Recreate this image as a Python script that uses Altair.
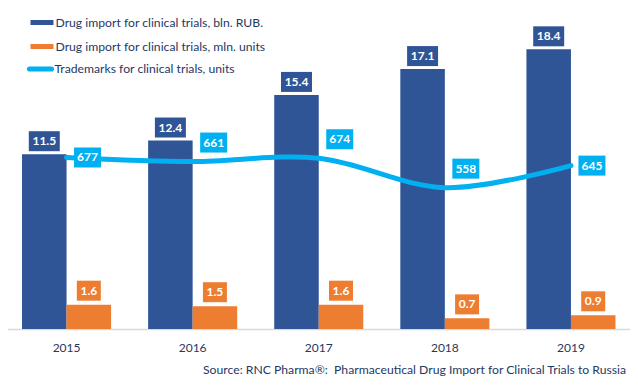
import altair as alt
import pandas as pd

years = ["2015", "2016", "2017", "2018", "2019"]
import_rub = [11.5, 12.4, 15.4, 17.1, 18.4]
import_units = [1.6, 1.5, 1.6, 0.7, 0.9]
trademarks = [677, 661, 674, 558, 645]

S_RUB = "Drug import for clinical trials, bln. RUB."
S_UNITS = "Drug import for clinical trials, mln. units"
S_TM = "Trademarks for clinical trials, units"
SOURCE = "Source: RNC Pharma®:\u00a0 Pharmaceutical Drug Import for Clinical Trials to Russia"

BLUE = "#2F5597"
ORANGE = "#ED7D31"
CYAN = "#00B0F0"
NAVY = "#1F3864"
FONT = "Lato"

bars_df = pd.DataFrame({
    "year": years * 2,
    "series": [S_RUB] * len(years) + [S_UNITS] * len(years),
    "value": import_rub + import_units,
})
tm_df = pd.DataFrame({"year": years, "series": [S_TM] * len(years), "value": trademarks})

X = alt.X("year:N", scale=alt.Scale(domain=years, paddingInner=0, paddingOuter=0),
          axis=alt.Axis(title=None, labelAngle=0, ticks=False, domainColor="#D9D9D9",
                        domainWidth=1.5, labelColor=NAVY, labelFont=FONT, labelFontSize=12,
                        labelPadding=13))
XO = alt.XOffset("series:N", scale=alt.Scale(domain=[S_RUB, S_UNITS], paddingInner=0,
                                              paddingOuter=0.416))
Y1 = alt.Y("value:Q", scale=alt.Scale(domain=[0, 20], nice=False, zero=True), axis=None)
Y2 = alt.Y("value:Q", scale=alt.Scale(domain=[0, 1200], nice=False, zero=True), axis=None)

base_b = alt.Chart(bars_df)
base_t = alt.Chart(tm_df)

bars = base_b.mark_bar().encode(
    x=X, xOffset=XO, y=Y1,
    color=alt.Color("series:N", scale=alt.Scale(domain=[S_RUB, S_UNITS], range=[BLUE, ORANGE]),
                    legend=alt.Legend(title=None, orient="none", legendX=27, legendY=-14,
                                      symbolType="M-1,-0.22L1,-0.22L1,0.22L-1,0.22Z",
                                      symbolSize=529, symbolStrokeWidth=0, symbolOpacity=1,
                                      labelFont=FONT, labelFontSize=12.2, labelColor=NAVY,
                                      labelOffset=2, rowPadding=6, padding=0, labelLimit=0)),
)

box_rub = base_b.transform_filter(alt.datum.series == S_RUB).mark_point(
    shape="M-1.55,-2.3L1.55,-2.3L1.55,-0.3L-1.55,-0.3Z", size=400, filled=True,
    opacity=1, color=BLUE, strokeWidth=0).encode(x=X, xOffset=XO, y=Y1)
box_units = base_b.transform_filter(alt.datum.series == S_UNITS).mark_point(
    shape="M-1.2,-2.4L1.2,-2.4L1.2,-0.4L-1.2,-0.4Z", size=400, filled=True,
    opacity=1, color=ORANGE, strokeWidth=0).encode(x=X, xOffset=XO, y=Y1)

txt_rub = base_b.transform_filter(alt.datum.series == S_RUB).mark_text(
    font=FONT, fontWeight="bold", fontSize=12, color="white", baseline="middle", dy=-13
).encode(x=X, xOffset=XO, y=Y1, text=alt.Text("value:Q", format=".1f"))
txt_units = base_b.transform_filter(alt.datum.series == S_UNITS).mark_text(
    font=FONT, fontWeight="bold", fontSize=12, color="white", baseline="middle", dy=-14
).encode(x=X, xOffset=XO, y=Y1, text=alt.Text("value:Q", format=".1f"))

line = base_t.mark_line(interpolate="cardinal", strokeWidth=5, strokeCap="round").encode(
    x=X, y=Y2,
    stroke=alt.Stroke("series:N", scale=alt.Scale(domain=[S_TM], range=[CYAN]),
                      legend=alt.Legend(title=None, orient="none", legendX=24, legendY=31,
                                        symbolType="M-0.85,-0.2L0.85,-0.2A0.2,0.2 0 0 1 0.85,0.2L-0.85,0.2A0.2,0.2 0 0 1 -0.85,-0.2Z",
                                        symbolSize=676, symbolFillColor=CYAN, symbolStrokeWidth=0,
                                        symbolOpacity=1, labelFont=FONT, labelFontSize=12.2,
                                        labelColor=NAVY, labelOffset=1, padding=0, labelLimit=0)),
)

ends = [years[0], years[-1]]
mid = years[1:-1]
box_tm_end = base_t.transform_filter(alt.FieldOneOfPredicate(field="year", oneOf=ends)).mark_point(
    shape="M0.75,-1L3.45,-1L3.45,1L0.75,1Z", size=400, filled=True, opacity=1,
    color=CYAN, strokeWidth=0).encode(x=X, y=Y2)
box_tm_mid = base_t.transform_filter(alt.FieldOneOfPredicate(field="year", oneOf=mid)).mark_point(
    shape="M0.75,-2.9L3.45,-2.9L3.45,-0.9L0.75,-0.9Z", size=400, filled=True, opacity=1,
    color=CYAN, strokeWidth=0).encode(x=X, y=Y2)
txt_tm_end = base_t.transform_filter(alt.FieldOneOfPredicate(field="year", oneOf=ends)).mark_text(
    font=FONT, fontWeight="bold", fontSize=12, color="white", baseline="middle", dx=21, dy=0
).encode(x=X, y=Y2, text="value:Q")
txt_tm_mid = base_t.transform_filter(alt.FieldOneOfPredicate(field="year", oneOf=mid)).mark_text(
    font=FONT, fontWeight="bold", fontSize=12, color="white", baseline="middle", dx=21, dy=-19
).encode(x=X, y=Y2, text="value:Q")

chart = alt.layer(
    bars, box_rub, box_units, txt_rub, txt_units,
    line, box_tm_end, box_tm_mid, txt_tm_end, txt_tm_mid,
).resolve_scale(y="independent").properties(
    width=630.5, height=304,
    title=alt.Title(SOURCE, orient="bottom", anchor="end", fontSize=12.2, fontWeight="normal",
                    color=NAVY, font=FONT, offset=11, dx=-8),
    autosize=alt.AutoSizeParams(type="none"),
    padding={"left": -4.5, "top": 17, "right": -4, "bottom": 49},
    background="white",
).configure_view(stroke=None)

chart.save("out.html", embed_options={"renderer": "svg", "actions": False})
